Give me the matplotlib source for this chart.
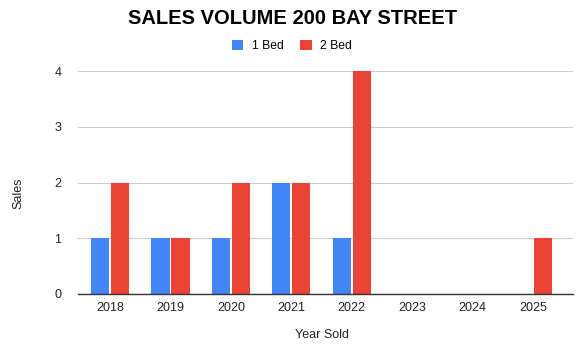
import numpy as np
import matplotlib.pyplot as plt
from matplotlib.patches import Patch

years = ["2018", "2019", "2020", "2021", "2022", "2023", "2024", "2025"]
one_bed = [1, 1, 1, 2, 1, 0, 0, 0]
two_bed = [2, 1, 2, 2, 4, 0, 0, 1]

BLUE = "#4285F4"
RED = "#EA4335"

plt.rcParams["font.family"] = ["Liberation Sans", "DejaVu Sans"]

fig = plt.figure(figsize=(5.83, 3.52), dpi=100)
ax = fig.add_axes([78 / 583, 1 - 294 / 352, 495 / 583, 223 / 352])

x = np.arange(len(years))
w = 0.3
ax.bar(x - 0.165, one_bed, width=w, color=BLUE, zorder=3)
ax.bar(x + 0.165, two_bed, width=w, color=RED, zorder=3)

ax.set_xlim(-0.53, 7.66)
ax.set_ylim(0, 4)
ax.set_yticks([0, 1, 2, 3, 4])
ax.set_xticks(x)
ax.set_xticklabels(years)
ax.tick_params(axis="both", length=0, labelsize=9, colors="#222222")
ax.tick_params(axis="y", pad=12)
ax.tick_params(axis="x", pad=6)
ax.grid(axis="y", color="#cccccc", linewidth=0.8, zorder=0)
for s in ["top", "right", "left"]:
    ax.spines[s].set_visible(False)
ax.spines["bottom"].set_color("#333333")
ax.spines["bottom"].set_linewidth(1.0)
ax.spines["bottom"].set_zorder(4)

fig.text(293 / 583, 1 - 18 / 352, "SALES VOLUME 200 BAY STREET", ha="center", va="center",
         fontsize=14.5, fontweight="bold", color="black")
fig.text(322 / 583, 1 - 335 / 352, "Year Sold", ha="center", va="center", fontsize=9, color="#222222")
fig.text(18 / 583, 1 - 193 / 352, "Sales", ha="center", va="center", rotation=90, fontsize=9, color="#222222")

handles = [Patch(facecolor=BLUE, label="1 Bed"), Patch(facecolor=RED, label="2 Bed")]
fig.legend(handles=handles, loc="center", bbox_to_anchor=(292 / 583, 1 - 46 / 352), ncol=2,
           frameon=False, fontsize=8.7, handlelength=0.95, handleheight=0.95, columnspacing=1.4,
           handletextpad=0.7, borderpad=0)

fig.savefig("out.png", dpi=100, facecolor="white")
